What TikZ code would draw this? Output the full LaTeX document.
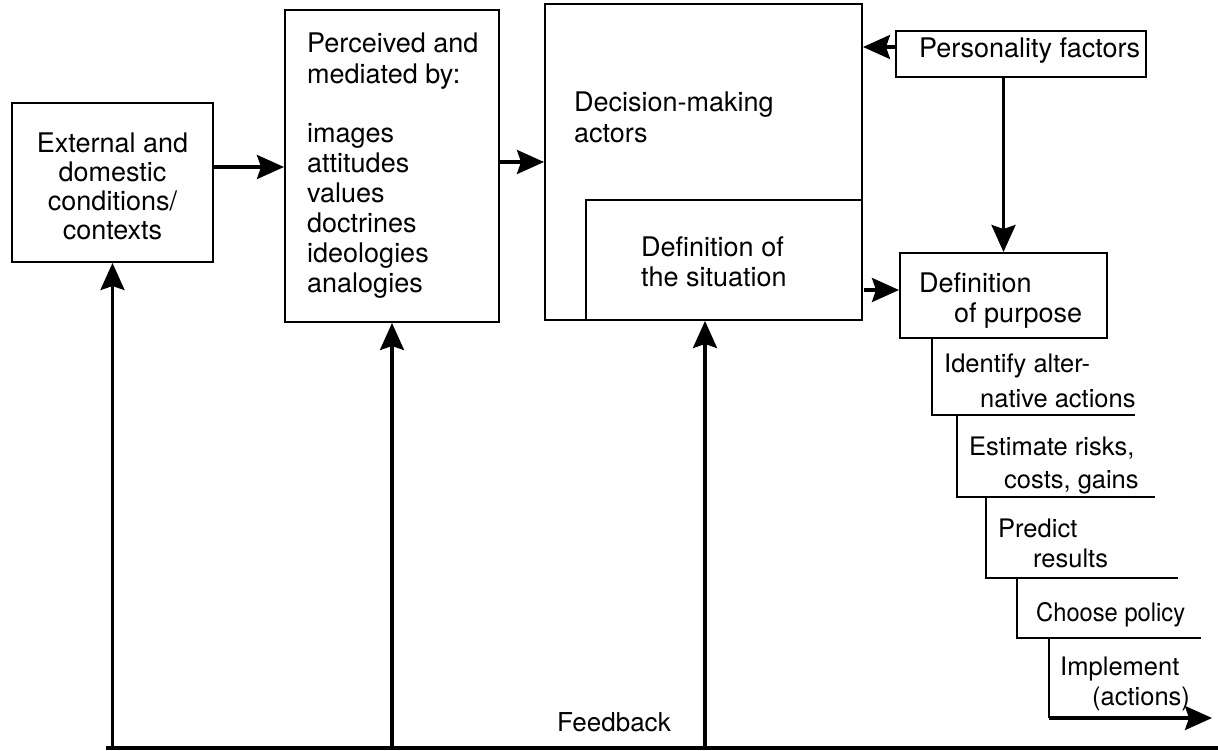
\documentclass[tikz,border=0pt]{standalone}
\usepackage{fontspec}
\setmainfont{TeX Gyre Heros}
\usetikzlibrary{arrows.meta}
\begin{document}
\begin{tikzpicture}[x=1pt,y=-1pt,
  box/.style={draw,line width=2pt,inner sep=0pt},
  arr/.style={line width=3.2pt,-{Stealth[length=27pt,width=24pt,inset=4pt]}},
  plain/.style={line width=2pt},
  txt/.style={font=\fontsize{27}{30}\selectfont,inner sep=0pt,anchor=base west,align=left},
  stxt/.style={font=\fontsize{25.5}{30}\selectfont,inner sep=0pt,anchor=base west,align=left},
  ctxt/.style={font=\fontsize{27}{29.3}\selectfont,inner sep=0pt,anchor=base,align=center},
]
\useasboundingbox (0,0) rectangle (1218,751);

% boxes
\node[box,minimum width=201pt,minimum height=159pt] (ext) at (112.5,182.5) {};
\node[box,minimum width=214pt,minimum height=312pt] (perc) at (392,166) {};
\node[box,minimum width=317pt,minimum height=316pt] (dec) at (703.5,162) {};
\node[box,minimum width=276pt,minimum height=120pt] (inner) at (724,260) {};
\node[box,minimum width=250pt,minimum height=46pt] (pers) at (1021,54) {};
\node[box,minimum width=207pt,minimum height=85pt] (purp) at (1003.5,295.5) {};

% texts (anchored at the baseline of the last line)
\node[ctxt] (extT) at (112.5,240) {External and\\domestic\\conditions/\\contexts};
\node[txt] (percT) at (307,293) {Perceived and\\mediated by:\\[30pt]images\\attitudes\\values\\doctrines\\ideologies\\analogies};
\node[txt] (decT) at (574,143) {Decision-making\\[1pt]actors};
\node[txt] (innerT) at (641,287) {Definition of\\the situation};
\node[txt] (persT) at (919,58) {Personality factors};
\node[txt] (purpT) at (919,323) {Definition\\\hspace*{35pt}of purpose};
\node[stxt] (s1T) at (944,407) {Identify alter-\\[5pt]\hspace*{36pt}native actions};
\node[stxt] (s2T) at (969,488) {Estimate risks,\\[3pt]\hspace*{35pt}costs, gains};
\node[stxt] (s3T) at (998,567) {Predict\\\hspace*{35pt}results};
\node[stxt,xscale=0.93] (s4T) at (1036,621) {Choose policy};
\node[stxt] (s5T) at (1060,705) {Implement\\\hspace*{32pt}(actions)};
\node[txt,font=\fontsize{26}{30}\selectfont] (fbT) at (557,731) {Feedback};

% staircase corners
\coordinate (s1) at (932,415);
\coordinate (s2) at (957,497);
\coordinate (s3) at (986,578);
\coordinate (s4) at (1017,638);
\coordinate (s5) at (1049,718);
\coordinate (s5e) at (1212,718);
\draw[plain] (s1 |- purp.south) -- (s1) -- ++(203,0);
\draw[plain] (s2 |- s1) -- (s2) -- ++(198,0);
\draw[plain] (s3 |- s2) -- (s3) -- ++(192,0);
\draw[plain] (s4 |- s3) -- (s4) -- ++(184,0);
\draw[plain] (s5 |- s4) -- (s5);
\draw[arr] (s5) -- (s5e);

% main arrows
\draw[arr] ([yshift=15.5pt]ext.east) -- ([yshift=15.5pt]ext.east -| perc.west);
\draw[arr] ([yshift=4pt]perc.east) -- ([yshift=4pt]perc.east -| dec.west);
\draw[arr] ([yshift=7pt]pers.west) -- ([yshift=7pt]pers.west -| dec.east);
\draw[arr] (purp.north |- pers.south) -- (purp.north);
\coordinate (ia) at (864,290);
\draw[arr] (ia) -- (ia -| purp.west);

% feedback
\coordinate (fbL) at (106,748);
\coordinate (fbR) at (1218,748);
\coordinate (fb3) at (705,748);
\draw[line width=3.2pt] (fbL) -- (fbR);
\draw[arr] (ext.south |- fbL) -- (ext.south);
\draw[arr] (perc.south |- fbL) -- (perc.south);
\draw[arr] (fb3) -- (fb3 |- inner.south);
\end{tikzpicture}
\end{document}
